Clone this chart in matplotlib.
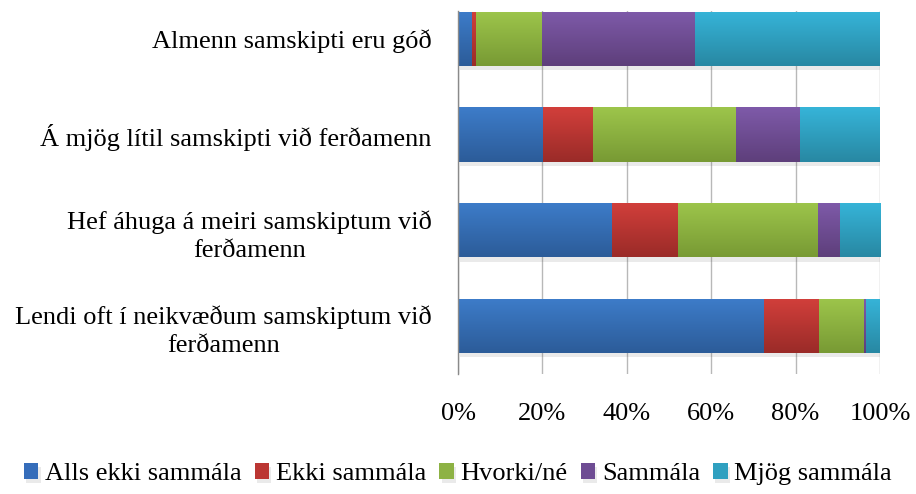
import matplotlib
matplotlib.use("Agg")
import matplotlib.pyplot as plt
import matplotlib.patheffects as pe
from matplotlib.colors import LinearSegmentedColormap
from matplotlib.ticker import PercentFormatter
import numpy as np

categories = [
    "Almenn samskipti eru góð",
    "Á mjög lítil samskipti við ferðamenn",
    "Hef áhuga á meiri samskiptum við\nferðamenn",
    "Lendi oft í neikvæðum samskiptum við\nferðamenn",
]
series_names = ["Alls ekki sammála", "Ekki sammála", "Hvorki/né", "Sammála", "Mjög sammála"]
alls_ekki = [3.2, 20.1, 36.5, 72.6]
ekki = [1.0, 11.9, 15.6, 13.0]
hvorki = [15.7, 33.9, 33.2, 10.5]
sammala = [36.3, 15.2, 5.2, 0.7]
mjog = [43.8, 18.9, 9.5, 3.2]
xticks = [0, 20, 40, 60, 80, 100]

series = [alls_ekki, ekki, hvorki, sammala, mjog]
top_cols = ["#3d7cc9", "#d23f3b", "#9dc54b", "#7e5aa9", "#36b4d8"]
bot_cols = ["#2c5c99", "#9a2b28", "#789a34", "#5e3f7b", "#2888a3"]
mid_cols = ["#356dba", "#bb3633", "#8db244", "#6e4c93", "#2fa0c0"]

plt.rcParams['font.family'] = ['Liberation Serif', 'DejaVu Serif']
FS = 19

fig = plt.figure(figsize=(9.16, 4.94), dpi=100)
ax = fig.add_axes([0.5, 1 - 374 / 494, 0.4607, (374 - 11) / 494])

ypos = np.arange(len(categories))
height = 0.565
left = np.zeros(len(categories))
shadow = [pe.SimplePatchShadow(offset=(1.5, -3), alpha=0.12, shadow_rgbFace="#555555"), pe.Normal()]
for vals, name, tc, bc, mc in zip(series, series_names, top_cols, bot_cols, mid_cols):
    bars = ax.barh(ypos, vals, left=left, height=height, color=mc, label=name,
                   zorder=3, edgecolor="none")
    cmap = LinearSegmentedColormap.from_list("g", [tc, bc])
    for b in bars:
        b.set_path_effects(shadow)
        x0, y0 = b.get_x(), b.get_y()
        w, h = b.get_width(), b.get_height()
        grad = np.linspace(0, 1, 64).reshape(-1, 1)
        im = ax.imshow(grad, cmap=cmap, aspect="auto", extent=(x0, x0 + w, y0 + h, y0),
                       zorder=4, interpolation="bilinear")
        im.set_clip_path(b)
    left = left + np.array(vals)

ax.set_xlim(0, 100)
ax.set_ylim(3.5, -0.29)
ax.set_yticks(ypos)
ax.set_yticklabels(categories, fontsize=FS, multialignment="center", linespacing=1.35)
ax.set_xticks(xticks)
ax.xaxis.set_major_formatter(PercentFormatter(decimals=0))
ax.tick_params(axis="x", length=0, pad=21, labelsize=FS)
ax.tick_params(axis="y", length=0, pad=19)
ax.grid(axis="x", color="#b8b8b8", linewidth=1.0, zorder=0)
ax.set_axisbelow(True)
for s in ["top", "right", "bottom"]:
    ax.spines[s].set_visible(False)
ax.spines["left"].set_color("#8a8a8a")
ax.spines["left"].set_linewidth(1.0)
ax.spines["left"].set_zorder(5)

leg = fig.legend(loc="center", bbox_to_anchor=(0.5, 1 - 474 / 494), ncol=5, frameon=False,
                 fontsize=FS, handlelength=0.55, handleheight=0.55, handletextpad=0.25,
                 columnspacing=0.5, borderpad=0, borderaxespad=0)

fig.savefig("out.png", dpi=100)
